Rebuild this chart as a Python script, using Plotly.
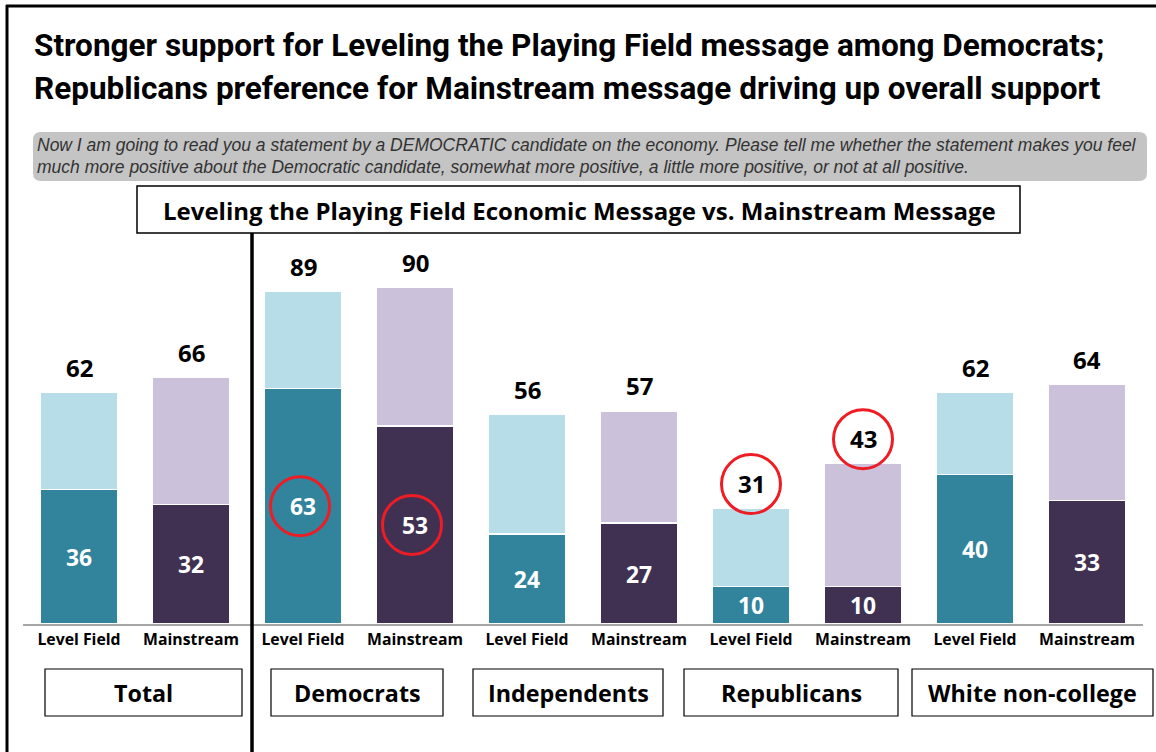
import plotly.graph_objects as go

# Survey results: share feeling more positive after hearing each message
groups = ["Total", "Democrats", "Independents", "Republicans", "White non-college"]
messages = ["Level Field", "Mainstream"]
much_more_positive = [36, 32, 63, 53, 24, 27, 10, 10, 40, 33]
total_positive = [62, 66, 89, 90, 56, 57, 31, 43, 62, 64]
circle_inner = [2, 3]   # bars whose inner value is circled
circle_top = [6, 7]     # bars whose total value is circled

title_lines = [
    "Stronger support for Leveling the Playing Field message among Democrats;",
    "Republicans preference for Mainstream message driving up overall support",
]
question_lines = [
    "Now I am going to read you a statement by a DEMOCRATIC candidate on the economy. Please tell me whether the statement makes you feel",
    "much more positive about the Democratic candidate, somewhat more positive, a little more positive, or not at all positive.",
]
header = "Leveling the Playing Field Economic Message vs. Mainstream Message"

# Colours
TEAL, TEAL_LT = "#31849b", "#b7dde8"
PURP, PURP_LT = "#403152", "#ccc1da"
RED = "#ee1c24"
dark_cols = [TEAL, PURP] * len(groups)
light_cols = [TEAL_LT, PURP_LT] * len(groups)

W, H = 1156, 752
L, R, T, B = 23, 1143, 250, 624
SANS = "'Open Sans', Lato, sans-serif"
TITLE_FONT = "Roboto, 'Liberation Sans', sans-serif"


def px_x(p):
    return (p - L) / (R - L)


def px_y(p):
    return (B - p) / (B - T)


n = len(much_more_positive)
xs = list(range(n))
ticktext = [messages[i % 2] for i in range(n)]
remainder = [t - s for t, s in zip(total_positive, much_more_positive)]

fig = go.Figure()
fig.add_trace(go.Bar(
    x=xs, y=much_more_positive, width=0.7,
    marker=dict(color=dark_cols, line=dict(color="white", width=1.5)),
    text=[str(v) for v in much_more_positive], textposition="inside",
    insidetextanchor="middle", textangle=0,
    textfont=dict(family=SANS, size=24, color="white", weight="bold"),
    hoverinfo="skip",
))
fig.add_trace(go.Bar(
    x=xs, y=remainder, width=0.7,
    marker=dict(color=light_cols, line=dict(color="white", width=1.5)),
    hoverinfo="skip",
))

annotations = []
shapes = []

# Totals above each bar
for i, v in enumerate(total_positive):
    annotations.append(dict(
        x=i, y=v, xref="x", yref="y", text=f"<b>{v}</b>", showarrow=False,
        yshift=25, font=dict(family=SANS, size=24, color="black"),
    ))

# Red circles for highlighted values
RAD = 29.5
for i in circle_inner:
    shapes.append(dict(type="circle", xref="x", yref="y", xsizemode="pixel", ysizemode="pixel",
                       xanchor=i, yanchor=much_more_positive[i] / 2,
                       x0=-RAD - 3, x1=RAD - 3, y0=-RAD, y1=RAD,
                       line=dict(color=RED, width=3)))
for i in circle_top:
    shapes.append(dict(type="circle", xref="x", yref="y", xsizemode="pixel", ysizemode="pixel",
                       xanchor=i, yanchor=total_positive[i],
                       x0=-RAD, x1=RAD, y0=24 - RAD, y1=24 + RAD,
                       line=dict(color=RED, width=3)))

# Title
for line, yc in zip(title_lines, [45, 88]):
    annotations.append(dict(
        x=px_x(32), y=px_y(yc), xref="paper", yref="paper", xanchor="left", yanchor="middle",
        text=f"<b>{line}</b>", showarrow=False,
        font=dict(family=TITLE_FONT, size=31.5, color="black"),
    ))

# Question box (rounded grey)
x0, x1, y0, y1, r = 33, 1147, 132, 181, 8
path = (f"M {px_x(x0 + r)},{px_y(y0)} L {px_x(x1 - r)},{px_y(y0)} "
        f"Q {px_x(x1)},{px_y(y0)} {px_x(x1)},{px_y(y0 + r)} "
        f"L {px_x(x1)},{px_y(y1 - r)} Q {px_x(x1)},{px_y(y1)} {px_x(x1 - r)},{px_y(y1)} "
        f"L {px_x(x0 + r)},{px_y(y1)} Q {px_x(x0)},{px_y(y1)} {px_x(x0)},{px_y(y1 - r)} "
        f"L {px_x(x0)},{px_y(y0 + r)} Q {px_x(x0)},{px_y(y0)} {px_x(x0 + r)},{px_y(y0)} Z")
shapes.append(dict(type="path", xref="paper", yref="paper", path=path,
                   fillcolor="#c4c4c4", line=dict(width=0), layer="below"))
for line, yc in zip(question_lines, [145, 167]):
    annotations.append(dict(
        x=px_x(35), y=px_y(yc), xref="paper", yref="paper", xanchor="left", yanchor="middle",
        text=f"<i>{line}</i>", showarrow=False,
        font=dict(family="'Liberation Sans', Arial, sans-serif", size=17.5, color="#333333"),
    ))

# Header box
shapes.append(dict(type="rect", xref="paper", yref="paper",
                   x0=px_x(137), x1=px_x(1020), y0=px_y(186), y1=px_y(233),
                   line=dict(color="black", width=1.5), fillcolor="white"))
annotations.append(dict(
    x=px_x(579), y=px_y(210), xref="paper", yref="paper", xanchor="center", yanchor="middle",
    text=f"<b>{header}</b>", showarrow=False, font=dict(family=SANS, size=24, color="black"),
))

# Group label boxes
group_boxes = [(45, 242), (271, 443), (473, 663), (684, 898), (912, 1153)]
for g, (bx0, bx1) in zip(groups, group_boxes):
    shapes.append(dict(type="rect", xref="paper", yref="paper",
                       x0=px_x(bx0), x1=px_x(bx1), y0=px_y(669), y1=px_y(716),
                       line=dict(color="black", width=1.2), fillcolor="white"))
    annotations.append(dict(
        x=px_x((bx0 + bx1) / 2), y=px_y(693), xref="paper", yref="paper",
        xanchor="center", yanchor="middle", text=f"<b>{g}</b>", showarrow=False,
        font=dict(family=SANS, size=23.3, color="black"),
    ))

# Divider between Total and subgroups
shapes.append(dict(type="line", xref="paper", yref="paper",
                   x0=px_x(252), x1=px_x(252), y0=px_y(233), y1=px_y(760),
                   line=dict(color="black", width=3.5)))

# Frame (top and left edges)
shapes.append(dict(type="line", xref="paper", yref="paper",
                   x0=px_x(6), x1=px_x(1170), y0=px_y(6), y1=px_y(6),
                   line=dict(color="black", width=3)))
shapes.append(dict(type="line", xref="paper", yref="paper",
                   x0=px_x(7), x1=px_x(7), y0=px_y(5), y1=px_y(760),
                   line=dict(color="black", width=3)))

fig.update_layout(
    barmode="stack", bargap=0.3, showlegend=False,
    width=W, height=H, margin=dict(l=L, r=W - R, t=T, b=H - B),
    paper_bgcolor="white", plot_bgcolor="white",
    xaxis=dict(range=[-0.5, n - 0.5], tickvals=xs, ticktext=[f"<b>{t}</b>" for t in ticktext],
               tickfont=dict(family=SANS, size=15.8, color="black"),
               showline=True, linecolor="#a6a6a6", linewidth=1.5, showgrid=False,
               zeroline=False, ticks="", fixedrange=True),
    yaxis=dict(range=[0, 100], visible=False, fixedrange=True),
    annotations=annotations, shapes=shapes,
    uniformtext=dict(mode="show", minsize=10),
)

fig.write_html("out.html")
